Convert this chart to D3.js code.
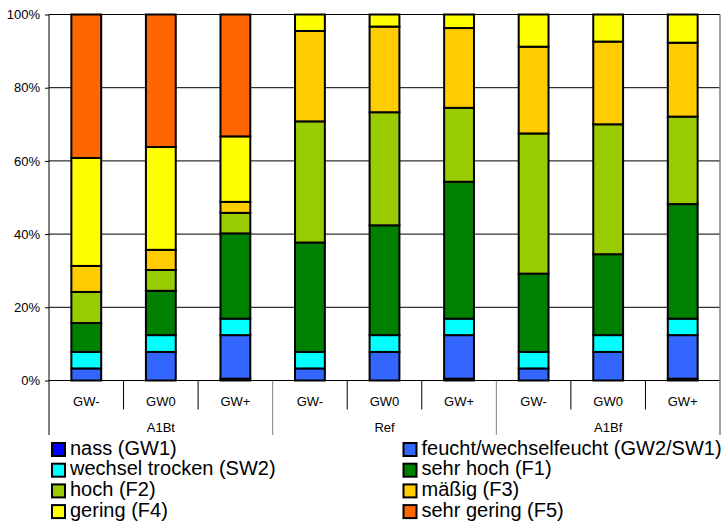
<!DOCTYPE html>
<html><head><meta charset="utf-8">
<script src="https://cdn.jsdelivr.net/npm/d3@7"></script>
<style>body{margin:0;background:#fff} text{font-family:"Liberation Sans",Arial,sans-serif}</style>
</head><body><svg id="c" width="726" height="526"></svg>
<script>
const groups = ["A1Bt", "Ref", "A1Bf"];
const scenarios = ["GW-", "GW0", "GW+"];
const seriesNames = ["nass (GW1)", "feucht/wechselfeucht (GW2/SW1)", "wechsel trocken (SW2)", "sehr hoch (F1)", "hoch (F2)", "mäßig (F3)", "gering (F4)", "sehr gering (F5)"];
const seriesColors = ["#0000FF", "#3366FF", "#00FFFF", "#008000", "#99CC00", "#FFCC00", "#FFFF00", "#FF6600"];
// values per bar: A1Bt GW-, GW0, GW+, Ref GW-, GW0, GW+, A1Bf GW-, GW0, GW+
const nass           = [0, 0, 0.5,   0, 0, 0.5,   0, 0, 0.5];
const feucht         = [3.3, 7.8, 11.9,  3.3, 7.8, 11.9,  3.3, 7.8, 11.9];
const wechselTrocken = [4.5, 4.6, 4.5,  4.5, 4.6, 4.5,  4.5, 4.6, 4.5];
const sehrHoch       = [7.9, 12.1, 23.3,  29.9, 30.0, 37.4,  21.4, 22.1, 31.3];
const hoch           = [8.5, 5.7, 5.6,  33.1, 30.9, 20.2,  38.3, 35.5, 23.9];
const maessig        = [7.1, 5.5, 3.0,  24.7, 23.4, 21.8,  23.7, 22.6, 20.2];
const gering         = [29.5, 28.1, 17.9,  4.5, 3.3, 3.7,  8.8, 7.4, 7.7];
const sehrGering     = [39.2, 36.2, 33.3,  0, 0, 0,  0, 0, 0];
const yTicks = [0, 20, 40, 60, 80, 100];

const seriesValues = [nass, feucht, wechselTrocken, sehrHoch, hoch, maessig, gering, sehrGering];
const keys = seriesNames.map((d, i) => "s" + i);
const bars = [];
groups.forEach((g, gi) => scenarios.forEach((s, si) => {
  const idx = gi * 3 + si;
  const row = { id: g + "|" + s, group: g, scen: s };
  keys.forEach((k, ki) => row[k] = seriesValues[ki][idx]);
  bars.push(row);
}));

const svg = d3.select("#c");
const L = 49, R = 720, T = 14.5, B = 380.5;
const x = d3.scaleBand().domain(bars.map(d => d.id)).range([L, R]).paddingInner(0.6).paddingOuter(0.3);
const y = d3.scaleLinear().domain([0, 100]).range([B, T]);

// gridlines
svg.append("g").selectAll("line").data(yTicks.filter(t => t > 0)).join("line")
  .attr("x1", L).attr("x2", R).attr("y1", d => y(d)).attr("y2", d => y(d))
  .attr("stroke", "#000").attr("stroke-width", 1);

// stacked bars
const stack = d3.stack().keys(keys)(bars);
svg.append("g").selectAll("g").data(stack).join("g")
  .attr("fill", (d, i) => seriesColors[i])
  .selectAll("rect").data(d => d).join("rect")
  .attr("x", d => x(d.data.id)).attr("width", x.bandwidth())
  .attr("y", d => y(d[1])).attr("height", d => y(d[0]) - y(d[1]))
  .attr("stroke", "#000").attr("stroke-width", 2);

// y axis
const ya = svg.append("g").attr("transform", `translate(${L},0)`)
  .call(d3.axisLeft(y).tickValues(yTicks).tickSize(4).tickPadding(5).tickFormat(d => d + "%"));
ya.select(".domain").remove();
ya.selectAll("line").attr("stroke", "#000");
ya.selectAll("text").attr("font-size", 13).attr("font-family", "'Liberation Sans', Arial, sans-serif").attr("fill", "#000");
svg.append("line").attr("x1", L).attr("x2", L).attr("y1", T).attr("y2", 435).attr("stroke", "#000");

// x axis
const step = x.step();
svg.append("line").attr("x1", L).attr("x2", R).attr("y1", B).attr("y2", B).attr("stroke", "#000");
svg.append("line").attr("x1", R).attr("x2", R).attr("y1", T).attr("y2", 435).attr("stroke", "#808080").attr("stroke-width", 1.5);
svg.append("g").selectAll("line").data(d3.range(1, bars.length)).join("line")
  .attr("x1", i => L + i * step).attr("x2", i => L + i * step)
  .attr("y1", B).attr("y2", i => i % 3 === 0 ? 435 : 409.5)
  .attr("stroke", i => i % 3 === 0 ? "#808080" : "#000");
svg.append("g").selectAll("text").data(bars).join("text")
  .attr("x", d => x(d.id) + x.bandwidth() / 2).attr("y", 405.5)
  .attr("text-anchor", "middle").attr("font-size", 13).text(d => d.scen);
svg.append("g").selectAll("text").data(groups).join("text")
  .attr("x", (g, gi) => L + (gi * 3 + 1.5) * step).attr("y", 432)
  .attr("text-anchor", "middle").attr("font-size", 13).text(d => d);

// legend
const lg = svg.append("g").selectAll("g").data(seriesNames).join("g")
  .attr("transform", (d, i) => `translate(${i % 2 === 0 ? 52 : 403.5},${443 + Math.floor(i / 2) * 20.7})`);
lg.append("rect").attr("width", 13).attr("height", 13)
  .attr("fill", (d, i) => seriesColors[i]).attr("stroke", "#000").attr("stroke-width", 2);
lg.append("text").attr("x", 18).attr("y", 11.5).attr("font-size", 20).text(d => d);
</script></body></html>
